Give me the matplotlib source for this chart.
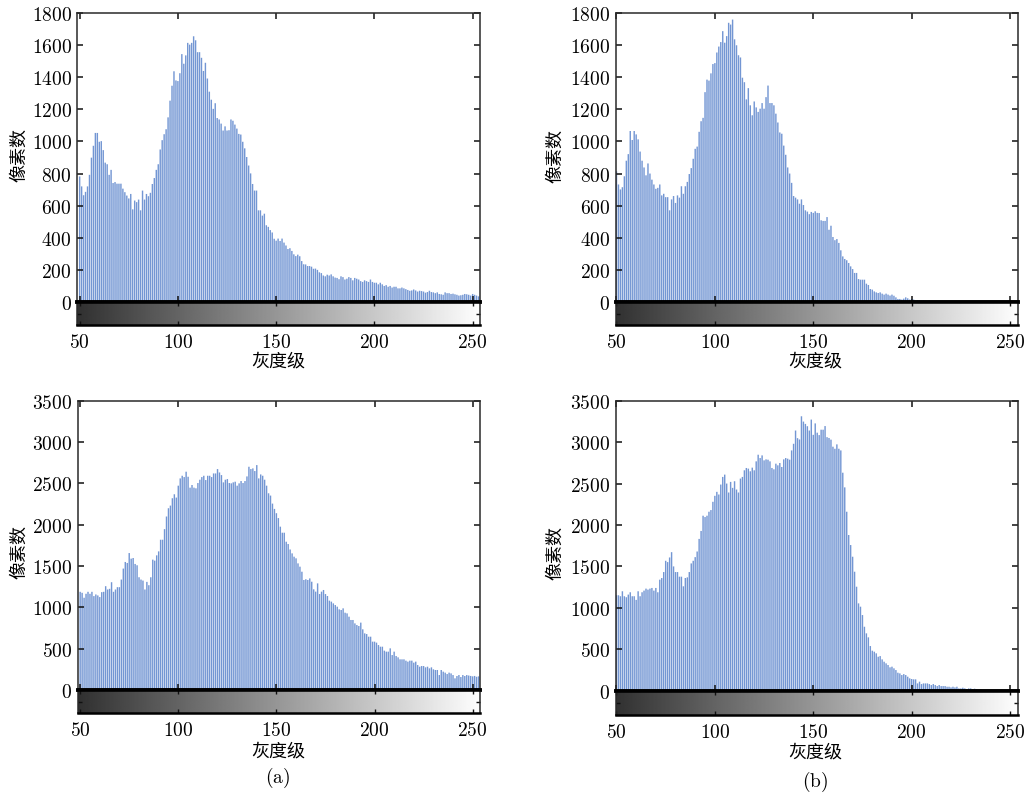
import numpy as np
import matplotlib
matplotlib.use("Agg")
import matplotlib.pyplot as plt
from matplotlib.ticker import FuncFormatter, FixedLocator

plt.rcParams['mathtext.fontset'] = 'cm'
plt.rcParams['font.family'] = ['Noto Sans CJK SC', 'DejaVu Sans']

gray_levels = np.arange(50, 256)

counts_top_left = [
    782, 720, 665, 686, 720, 792, 899, 973, 1053, 1053,
    998, 1002, 946, 868, 858, 792, 823, 741, 747, 737,
    737, 737, 706, 684, 663, 645, 673, 577, 632, 622,
    638, 571, 694, 638, 673, 659, 680, 735, 772, 823,
    858, 950, 1008, 1045, 1076, 1150, 1254, 1347, 1437, 1380,
    1376, 1425, 1544, 1484, 1536, 1614, 1603, 1614, 1655, 1630,
    1556, 1556, 1521, 1439, 1490, 1392, 1310, 1260, 1203, 1238,
    1146, 1137, 1111, 1068, 1094, 1068, 1070, 1137, 1129, 1105,
    1080, 1047, 1043, 998, 957, 903, 850, 801, 735, 694,
    694, 571, 571, 538, 550, 478, 468, 448, 433, 394,
    382,
    395, 380, 395, 370, 352, 330, 335, 318, 297, 286,
    295, 285, 255, 235, 234, 224, 224, 220, 207, 208,
    200, 185, 180, 165, 160, 170, 165, 172, 160, 152,
    150, 142, 160, 155, 140, 145, 155, 150, 135, 150,
    145, 140, 130, 125, 135, 130, 125, 140, 125, 120,
    120, 110, 120, 110, 100, 105, 95, 100, 90, 95,
    95, 85, 85, 90, 85, 80, 75, 70, 72, 78,
    72, 65, 70, 68, 65, 58, 62, 70, 62, 60,
    55, 60, 50, 48, 45, 60, 55, 55, 50, 52,
    48, 45, 40, 42, 45, 50, 48, 45, 40, 50,
    45, 40, 35, 38, 36,
]

counts_top_right = [
    814, 732, 701, 715, 783, 880, 921, 1065, 1009, 1065,
    1044, 1013, 937, 880, 838, 789, 863, 800, 762, 732,
    705, 711, 732, 664, 674, 653, 653, 571, 639, 660,
    617, 664, 650, 721, 674, 721, 748, 797, 834, 892,
    954, 968, 1060, 1126, 1147, 1307, 1385, 1379, 1424, 1482,
    1488, 1554, 1591, 1619, 1687, 1615, 1656, 1739, 1728, 1759,
    1636, 1599, 1537, 1523, 1397, 1369, 1262, 1332, 1225, 1163,
    1249, 1212, 1184, 1204, 1239, 1204, 1276, 1348, 1239, 1239,
    1225, 1173, 1118, 1056, 1048, 974, 917, 838, 800, 742,
    660, 650, 639, 612, 639, 604, 571, 563, 547, 561,
    555,
    565, 555, 554, 509, 505, 505, 529, 450, 475, 405,
    385, 392, 368, 322, 284, 268, 260, 243, 222, 205,
    181, 181, 143, 139, 139, 139, 114, 106, 81, 77,
    66, 60, 56, 60, 52, 46, 52, 46, 40, 46,
    39, 29, 19, 19, 15, 21, 29, 23, 15, 19,
    15, 10, 12, 10, 8, 10, 8, 6, 8, 6,
    5, 6, 5, 4, 5, 4, 4, 3, 4, 3,
    3, 2, 3, 2, 4, 2, 3, 2, 1, 1,
    1, 1, 0, 1, 0, 0, 1, 0, 0, 0,
    0, 0, 0, 0, 0, 0, 0, 0, 0, 0,
    0, 0, 0, 0, 0,
]

counts_bottom_left = [
    1188, 1176, 1116, 1164, 1188, 1164, 1188, 1136, 1156, 1144,
    1124, 1184, 1188, 1256, 1216, 1224, 1304, 1188, 1216, 1244,
    1244, 1336, 1469, 1549, 1537, 1657, 1589, 1597, 1525, 1509,
    1364, 1336, 1324, 1216, 1308, 1268, 1364, 1577, 1565, 1629,
    1677, 1818, 1818, 1946, 2099, 2199, 2231, 2320, 2368, 2328,
    2472, 2560, 2592, 2576, 2641, 2580, 2448, 2480, 2448, 2440,
    2504, 2544, 2576, 2592, 2540, 2592, 2592, 2576, 2620, 2620,
    2673, 2632, 2600, 2512, 2544, 2552, 2504, 2500, 2512, 2520,
    2472, 2500, 2528, 2504, 2528, 2584, 2701, 2673, 2681, 2649,
    2721, 2560, 2608, 2592, 2544, 2472, 2380, 2352, 2255, 2191,
    2139,
    2080, 1976, 1903, 1903, 1794, 1766, 1700, 1653, 1613, 1593,
    1532, 1492, 1431, 1331, 1340, 1331, 1350, 1310, 1218, 1190,
    1290, 1161, 1190, 1210, 1161, 1137, 1081, 1069, 1048, 1028,
    1008, 976, 968, 988, 935, 927, 887, 847, 847, 806,
    786, 774, 815, 734, 685, 677, 645, 645, 585, 585,
    573, 544, 524, 524, 476, 464, 464, 504, 423, 464,
    411, 395, 371, 371, 371, 355, 343, 355, 355, 331,
    343, 302, 282, 290, 290, 274, 282, 262, 274, 250,
    242, 242, 181, 242, 222, 210, 193, 210, 201, 181,
    141, 169, 181, 157, 181, 169, 181, 175, 170, 165,
    170, 160, 165, 160, 160,
]

counts_bottom_right = [
    1152, 1152, 1140, 1200, 1140, 1128, 1160, 1188, 1140, 1140,
    1096, 1200, 1140, 1188, 1208, 1232, 1220, 1232, 1240, 1208,
    1240, 1188, 1340, 1360, 1432, 1568, 1552, 1608, 1672, 1500,
    1432, 1432, 1376, 1376, 1260, 1360, 1368, 1432, 1536, 1568,
    1612, 1680, 1832, 1928, 2112, 2096, 2112, 2160, 2180, 2280,
    2352, 2400, 2368, 2488, 2580, 2608, 2500, 2392, 2520, 2448,
    2528, 2428, 2392, 2560, 2580, 2660, 2688, 2680, 2648, 2692,
    2660, 2768, 2848, 2808, 2840, 2780, 2792, 2788, 2768, 2688,
    2672, 2740, 2720, 2748, 2700, 2792, 2808, 2800, 2788, 2900,
    2980, 3140, 3048, 3032, 3312, 3248, 3220, 3192, 3140, 3272,
    3088,
    3226, 3114, 3085, 3150, 3150, 3194, 3060, 3050, 3030, 2945,
    2920, 2973, 2920, 2900, 2631, 2454, 2160, 1879, 1758, 1617,
    1436, 1255, 1054, 1014, 913, 772, 692, 644, 539, 483,
    471, 451, 410, 418, 378, 350, 330, 310, 282, 290,
    270, 249, 217, 209, 189, 200, 189, 169, 149, 141,
    137, 137, 88, 109, 80, 88, 88, 88, 80, 68,
    80, 68, 56, 68, 56, 56, 56, 48, 48, 40,
    48, 40, 48, 28, 28, 36, 28, 20, 28, 28,
    20, 24, 20, 8, 16, 8, 8, 8, 6, 8,
    5, 6, 5, 4, 5, 4, 6, 5, 4, 5,
    4, 5, 4, 3, 4,
]

x_ticks = [50, 100, 150, 200, 250]
y_ticks_top = [0, 200, 400, 600, 800, 1000, 1200, 1400, 1600, 1800]
y_ticks_bottom = [0, 500, 1000, 1500, 2000, 2500, 3000, 3500]
y_label = "像素数"
x_label = "灰度级"
sub_labels = ["(a)", "(b)"]

W, H = 1030, 796
fig = plt.figure(figsize=(W / 100, H / 100), dpi=100)

# panel geometry in pixels: left, right, top, zero line, colorbar bottom
panels = [
    dict(counts=counts_top_left, yt=y_ticks_top, l=77.3, r=480.3, t=13.0, z=302.0, b=325.0, xl=(48.8, 253.9)),
    dict(counts=counts_top_right, yt=y_ticks_top, l=615.7, r=1018.3, t=13.0, z=302.0, b=325.0, xl=(49.6, 254.2)),
    dict(counts=counts_bottom_left, yt=y_ticks_bottom, l=77.8, r=480.3, t=400.7, z=690.0, b=713.0, xl=(48.8, 253.9)),
    dict(counts=counts_bottom_right, yt=y_ticks_bottom, l=615.7, r=1018.3, t=400.7, z=690.7, b=715.0, xl=(49.6, 254.2)),
]

bar_face = '#7396d3'
spine_col = '#2a2a2a'


def fmt(v, pos):
    return r'$%d$' % int(round(v))


for p in panels:
    ax = fig.add_axes([p['l'] / W, 1 - p['z'] / H, (p['r'] - p['l']) / W, (p['z'] - p['t']) / H])
    bars = ax.bar(gray_levels, p['counts'], width=0.72, color=bar_face, edgecolor='none', linewidth=0)
    for b in bars:
        b.set_snap(False)
    ax.set_xlim(*p['xl'])
    ax.set_ylim(0, p['yt'][-1])
    ax.yaxis.set_major_locator(FixedLocator(p['yt']))
    ax.yaxis.set_major_formatter(FuncFormatter(fmt))
    ax.xaxis.set_major_locator(FixedLocator(x_ticks))
    ax.tick_params(axis='both', direction='in', length=4, width=1.1, color='#111111',
                   top=True, right=True, labelbottom=False, labelsize=14, pad=4)
    for s in ['left', 'top', 'right']:
        ax.spines[s].set_color(spine_col)
        ax.spines[s].set_linewidth(1.1)
    ax.spines['bottom'].set_color('black')
    ax.spines['bottom'].set_linewidth(2.6)
    ax.spines['bottom'].set_zorder(5)

    cax = fig.add_axes([p['l'] / W, 1 - p['b'] / H, (p['r'] - p['l']) / W, (p['b'] - p['z']) / H])
    grad = np.linspace(p['xl'][0], p['xl'][1], 512)[None, :]
    cax.imshow(grad, cmap='gray', vmin=0, vmax=255, aspect='auto',
               extent=[p['xl'][0], p['xl'][1], 0, 1], interpolation='bilinear')
    cax.set_xlim(*p['xl'])
    cax.set_ylim(0, 1)
    cax.xaxis.set_major_locator(FixedLocator(x_ticks))
    cax.xaxis.set_major_formatter(FuncFormatter(fmt))
    cax.yaxis.set_major_locator(FixedLocator([0.5]))
    cax.tick_params(axis='both', direction='in', length=3, width=1.0, color='#111111',
                    top=True, right=True, labelleft=False, labelsize=14, pad=5)
    for s in ['left', 'right']:
        cax.spines[s].set_color(spine_col)
        cax.spines[s].set_linewidth(1.1)
    cax.spines['bottom'].set_color('black')
    cax.spines['bottom'].set_linewidth(1.8)
    cax.spines['top'].set_color('black')
    cax.spines['top'].set_linewidth(2.6)

# axis labels
ylab_pos = [(19, 155), (555, 156), (19, 552), (555, 553)]
xlab_pos = [(278, 362), (815, 362), (278, 752), (815, 753)]
for (x, y) in ylab_pos:
    fig.text(x / W, 1 - y / H, y_label, rotation=90, ha='center', va='center', fontsize=13)
for (x, y) in xlab_pos:
    fig.text(x / W, 1 - y / H, x_label, ha='center', va='center', fontsize=13)

fig.text(278 / W, 1 - 778 / H, r'$\mathrm{' + sub_labels[0] + '}$', ha='center', va='center', fontsize=14)
fig.text(815 / W, 1 - 782 / H, r'$\mathrm{' + sub_labels[1] + '}$', ha='center', va='center', fontsize=14)

fig.savefig('out.png', dpi=100)
